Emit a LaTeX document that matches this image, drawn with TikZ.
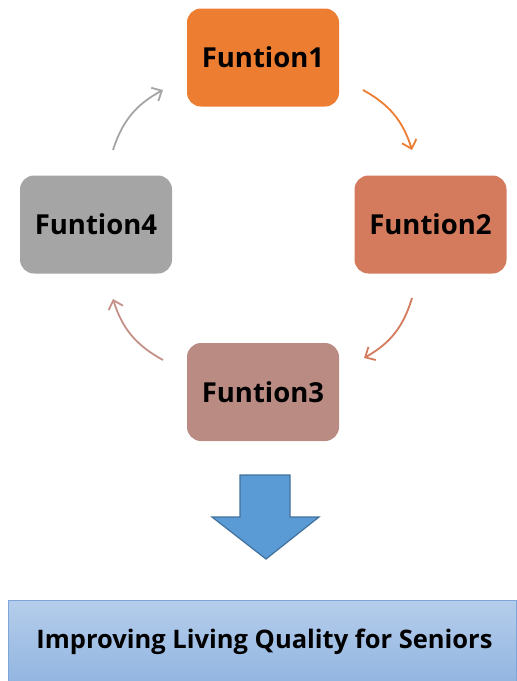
\documentclass[tikz,border=0pt]{standalone}
\usepackage{fontspec}
\setmainfont{Open Sans}
\usetikzlibrary{arrows.meta}
\definecolor{cA}{HTML}{ED7D31}
\definecolor{cB}{HTML}{D47B5E}
\definecolor{cC}{HTML}{BA8B82}
\definecolor{cD}{HTML}{A5A5A5}
\definecolor{aC}{HTML}{C49088}
\definecolor{bigfill}{HTML}{5B9BD5}
\definecolor{bigdraw}{HTML}{41719C}
\definecolor{gtop}{HTML}{B5CDEB}
\definecolor{gbot}{HTML}{93B6E1}
\definecolor{gdraw}{HTML}{7EA6D9}
\tikzset{
  fbox/.style={rounded corners=14pt, minimum width=152pt, minimum height=98pt, inner sep=0pt, font=\fontsize{27.5}{32}\selectfont\bfseries, text=black},
  carrow/.style={line width=1.8pt, -{Straight Barb[length=8pt,width=15pt,line width=1.8pt]}}
}
\begin{document}
\begin{tikzpicture}[x=1pt,y=-1pt]
\useasboundingbox (0,0) rectangle (517,681);
\node[fbox, fill=cA] (f1) at (263,57.5) {Funtion1};
\node[fbox, fill=cB] (f2) at (430.5,224.5) {Funtion2};
\node[fbox, fill=cC] (f3) at (263,392) {Funtion3};
\node[fbox, fill=cD] (f4) at (96,224.5) {Funtion4};
\coordinate (a1s) at (363,90); \coordinate (a1e) at (412,150);
\coordinate (a2s) at (412,298); \coordinate (a2e) at (364,358);
\coordinate (a3s) at (163,360); \coordinate (a3e) at (113,299);
\coordinate (a4s) at (113,150); \coordinate (a4e) at (163,90);
\draw[carrow, cA] (a1s) to[bend left=22] (a1e);
\draw[carrow, cB] (a2s) to[bend left=22] (a2e);
\draw[carrow, aC] (a3s) to[bend left=22] (a3e);
\draw[carrow, cD] (a4s) to[bend left=22] (a4e);
\draw[bigdraw, fill=bigfill, line width=1.2pt, line join=miter]
  (240,475) -- (290,475) -- (290,517) -- (319,517) -- (266,559) -- (212,517) -- (240,517) -- cycle;
\shade[top color=gtop, bottom color=gbot] (8,600) rectangle (516,681);
\draw[gdraw, line width=1pt] (8,681) -- (8,600) -- (516,600) -- (516,681);
\node[font=\fontsize{25.5}{30}\selectfont\bfseries, text=black] (goal) at (264.5,642) {Improving Living Quality for Seniors};
\end{tikzpicture}
\end{document}
